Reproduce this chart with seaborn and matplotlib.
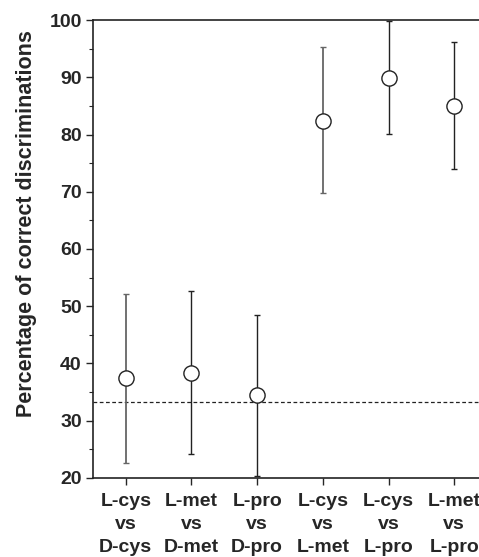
import matplotlib
matplotlib.use("Agg")
import matplotlib.pyplot as plt
import numpy as np
import pandas as pd
import seaborn as sns
from matplotlib.ticker import MultipleLocator

# Values
pairs = ["L-cys\nvs\nD-cys", "L-met\nvs\nD-met", "L-pro\nvs\nD-pro",
         "L-cys\nvs\nL-met", "L-cys\nvs\nL-pro", "L-met\nvs\nL-pro"]
mean_pct = [37.4, 38.3, 34.4, 82.4, 89.9, 84.9]
upper_pct = [52.1, 52.7, 48.5, 95.3, 99.8, 96.1]
lower_pct = [22.6, 24.2, 20.4, 69.7, 80.1, 74.0]
bar_colors = ["#666666", "#222222", "#222222", "#666666", "#222222", "#222222"]
chance_level = 33.3

df = pd.DataFrame({"pos": np.arange(len(pairs)), "mean": mean_pct,
                   "lo": lower_pct, "hi": upper_pct})

sns.set_style("ticks")
plt.rcParams['font.family'] = ['Liberation Sans', 'DejaVu Sans']
plt.rcParams['font.weight'] = 'bold'

fig = plt.figure(figsize=(4.79, 5.57), dpi=100)
ax = fig.add_axes([0.194, 0.142, 0.823, 0.822])

# chance line
ax.axhline(chance_level, color="#222222", lw=0.9, ls=(0, (3, 2)), zorder=1)

# error bars, one per comparison
for _, row in df.iterrows():
    i = int(row["pos"])
    ax.errorbar(row["pos"], row["mean"],
                yerr=[[row["mean"] - row["lo"]], [row["hi"] - row["mean"]]],
                fmt="none", ecolor=bar_colors[i], elinewidth=1.3 if bar_colors[i] == "#666666" else 1.0,
                capsize=2.5, capthick=1.0, zorder=2)

sns.scatterplot(data=df, x="pos", y="mean", ax=ax, s=120, marker="o",
                facecolor="white", edgecolor="#222222", linewidth=1.0, zorder=3)

ax.set_xlim(-0.5, 5.5)
ax.set_ylim(20, 100)
ax.set_xticks(df["pos"])
ax.set_xticklabels(pairs, fontsize=14, fontweight="bold", linespacing=1.45)
ax.yaxis.set_major_locator(MultipleLocator(10))
ax.yaxis.set_minor_locator(MultipleLocator(5))
ax.tick_params(axis="y", which="major", length=5, width=1, labelsize=14, pad=3)
ax.tick_params(axis="y", which="minor", length=3, width=0.8)
ax.tick_params(axis="x", length=5, width=1, pad=6)
for lab in ax.get_yticklabels():
    lab.set_fontweight("bold")

ax.set_xlabel("")
ax.set_ylabel("Percentage of correct discriminations", fontsize=15.5,
              fontweight="bold")
ax.yaxis.set_label_coords(-0.143, 0.555)

for side in ["left", "bottom", "top", "right"]:
    ax.spines[side].set_visible(True)
    ax.spines[side].set_linewidth(1.2)
    ax.spines[side].set_color("#222222")

fig.savefig("out.png", dpi=100)
